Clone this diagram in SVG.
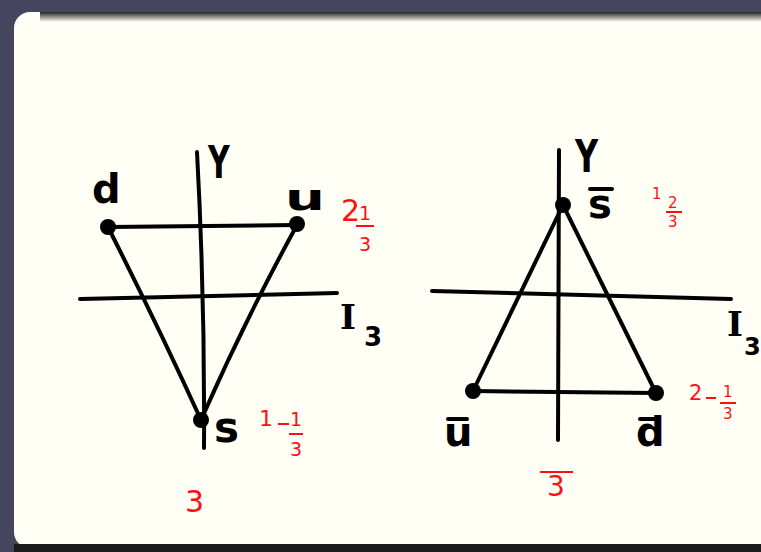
<svg xmlns="http://www.w3.org/2000/svg" width="761" height="552" viewBox="0 0 761 552">
<style>
.ln{stroke:#000;stroke-width:4;fill:none;stroke-linecap:round;stroke-linejoin:round}
.dot{fill:#000}
.lb{font-family:"DejaVu Sans","Liberation Sans",sans-serif;font-size:40px;fill:#000;font-weight:bold}
.ser{font-family:"DejaVu Serif","Liberation Serif",serif;font-size:34px;fill:#000;font-weight:bold}
.rd{font-family:"DejaVu Sans","Liberation Sans",sans-serif;font-size:30px;fill:#ff1010}
.rs{font-family:"DejaVu Sans","Liberation Sans",sans-serif;font-size:19px;fill:#ff1010}
.rt{font-family:"DejaVu Sans","Liberation Sans",sans-serif;font-size:15px;fill:#ff1010}
.rb{stroke:#ff1010;stroke-width:2;fill:none}
</style>
<defs>
<linearGradient id="top" x1="0" y1="0" x2="0" y2="1">
<stop offset="0" stop-color="#222"/>
<stop offset="1" stop-color="#fffff5"/>
</linearGradient>
</defs>
<rect x="0" y="0" width="761" height="552" fill="#45455f"/>
<rect x="14" y="12" width="800" height="536" rx="16" fill="#fffff5"/>
<rect x="40" y="12" width="760" height="10" fill="url(#top)"/>
<rect x="14" y="544" width="800" height="8" fill="#1a1a1a"/>

<g id="left">
<g id="conn-left">
<path class="ln" d="M197,152 Q205,300 204,448"/>
<path class="ln" d="M80,299 L337,293"/>
<path class="ln" d="M108,227 L297,225"/>
<path class="ln" d="M108,227 Q160,330 201,420"/>
<path class="ln" d="M297,225 Q245,320 201,420"/>
</g>
<g id="node-d"><circle class="dot" cx="108" cy="227" r="8"/><text class="lb" x="92" y="203">d</text></g>
<g id="node-u"><circle class="dot" cx="297" cy="224" r="8"/><text class="lb" transform="translate(285 210) scale(1.4 0.9)">u</text></g>
<g id="node-s"><circle class="dot" cx="201" cy="420" r="8"/><text class="lb" x="214" y="442" style="font-size:42px">s</text></g>
<text class="lb" transform="translate(208 178) scale(0.75 1.1)">Y</text>
<text class="ser" x="340" y="329">I</text><text class="lb" x="364" y="346" style="font-size:26px">3</text>
<text class="rd" x="341" y="221">2</text>
<text class="rs" x="359" y="220">1</text><path class="rb" d="M356,226 H374"/><text class="rs" x="359" y="251">3</text>
<text class="rd" x="259" y="426" style="font-size:22px">1</text><path class="rb" d="M278,424 H289"/>
<text class="rs" x="290" y="426">1</text><path class="rb" d="M289,434 H303"/><text class="rs" x="290" y="456">3</text>
<text class="rd" x="185" y="512">3</text>
</g>

<g id="right">
<g id="conn-right">
<path class="ln" d="M559,150 L558,440"/>
<path class="ln" d="M432,291 L731,299"/>
<path class="ln" d="M473,391 L656,393"/>
<path class="ln" d="M563,205 L473,391"/>
<path class="ln" d="M563,205 L656,393"/>
</g>
<g id="node-sbar"><circle class="dot" cx="563" cy="205" r="8"/><text class="lb" x="588" y="218">s</text><path class="ln" d="M590,189 H612"/></g>
<g id="node-ubar"><circle class="dot" cx="473" cy="391" r="8"/><text class="lb" x="444" y="446">u</text><path class="ln" d="M448,419 H467"/></g>
<g id="node-dbar"><circle class="dot" cx="656" cy="393" r="8"/><text class="lb" x="636" y="446">d</text><path class="ln" d="M640,419 H656"/></g>
<text class="lb" transform="translate(575 172) scale(0.8 1.1)">Y</text>
<text class="ser" x="727" y="336">I</text><text class="lb" x="744" y="355" style="font-size:24px">3</text>
<text class="rt" x="652" y="199">1</text>
<text class="rt" x="668" y="208">2</text><path class="rb" d="M666,212 H682"/><text class="rt" x="668" y="227">3</text>
<text class="rd" x="689" y="400" style="font-size:21px">2</text><path class="rb" d="M706,398 H716"/>
<text class="rt" x="723" y="397">1</text><path class="rb" d="M720,403 H736"/><text class="rt" x="723" y="419">3</text>
<path class="rb" d="M540,472 H573"/><text class="rd" x="547" y="496" style="font-size:28px">3</text>
</g>
</svg>
